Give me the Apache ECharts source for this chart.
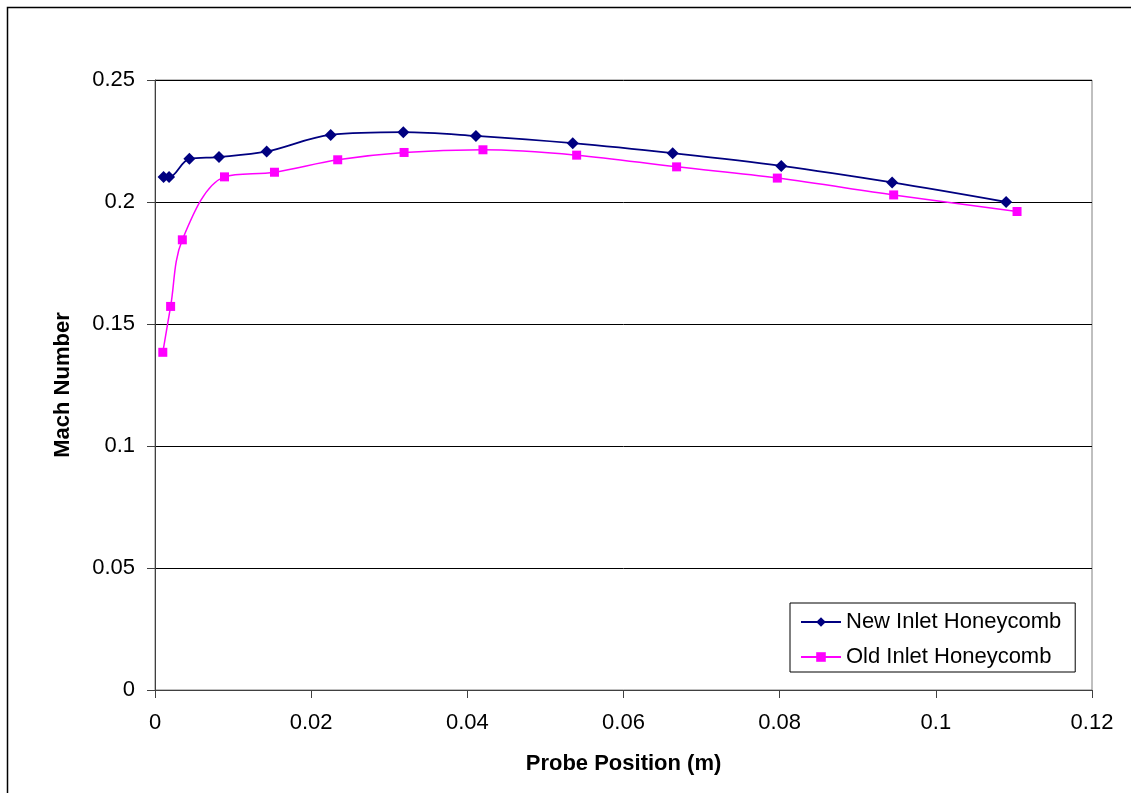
<!DOCTYPE html>
<html>
<head>
<meta charset="utf-8">
<script src="https://cdn.jsdelivr.net/npm/echarts@6/dist/echarts.min.js"></script>
<style>
html,body{margin:0;padding:0;background:#fff;}
#chart{width:1131px;height:793px;}
</style>
</head>
<body>
<div id="chart"></div>
<script>
const seriesNames = ['New Inlet Honeycomb', 'Old Inlet Honeycomb'];
const newX = [0.0011, 0.0018, 0.0044, 0.0082, 0.0143, 0.0225, 0.0318, 0.0411, 0.0535, 0.0663, 0.0802, 0.0944, 0.1090];
const newY = [0.2102, 0.2102, 0.2177, 0.2184, 0.2207, 0.2275, 0.2286, 0.2271, 0.2241, 0.2200, 0.2148, 0.2080, 0.2000];
const oldX = [0.0010, 0.0020, 0.0035, 0.0089, 0.0153, 0.0234, 0.0319, 0.0420, 0.0540, 0.0668, 0.0797, 0.0946, 0.1104];
const oldY = [0.1384, 0.1572, 0.1845, 0.2103, 0.2122, 0.2173, 0.2203, 0.2214, 0.2192, 0.2144, 0.2098, 0.2029, 0.1961];
const xTicks = [0, 0.02, 0.04, 0.06, 0.08, 0.1, 0.12];
const yTicks = [0, 0.05, 0.1, 0.15, 0.2, 0.25];

const pairs = (xs, ys) => xs.map((x, i) => [x, ys[i]]);
const font = 'Liberation Sans, Arial, sans-serif';

const chart = echarts.init(document.getElementById('chart'), null, {renderer: 'canvas'});
chart.setOption({
  backgroundColor: '#ffffff',
  animation: false,
  textStyle: {fontFamily: font},
  graphic: [{
    type: 'rect', left: 5, top: 5,
    shape: {width: 1140, height: 800},
    style: {fill: 'none', stroke: '#000', lineWidth: 1.5},
    silent: true
  }],
  grid: {
    left: 155, right: 39, top: 80, bottom: 103,
    show: true, borderColor: '#808080', borderWidth: 1, backgroundColor: 'transparent'
  },
  legend: {
    orient: 'vertical',
    left: 790, top: 603,
    padding: [8, 14, 4, 10],
    itemGap: 13,
    itemWidth: 40, itemHeight: 12,
    borderColor: '#000', borderWidth: 1,
    backgroundColor: '#fff',
    textStyle: {fontFamily: font, fontSize: 22, color: '#000', lineHeight: 22},
    data: seriesNames
  },
  xAxis: {
    type: 'value', min: 0, max: 0.12, interval: 0.02,
    name: 'Probe Position (m)', nameLocation: 'middle', nameGap: 63,
    nameTextStyle: {fontFamily: font, fontSize: 22, fontWeight: 'bold', color: '#000'},
    axisLine: {show: true, lineStyle: {color: '#404040', width: 1}},
    axisTick: {show: true, inside: false, length: 8, lineStyle: {color: '#404040'}},
    axisLabel: {fontFamily: font, fontSize: 22, color: '#000', margin: 22,
      customValues: xTicks, formatter: v => String(v)},
    splitLine: {show: false}
  },
  yAxis: {
    type: 'value', min: 0, max: 0.25, interval: 0.05,
    name: 'Mach Number', nameLocation: 'middle', nameGap: 81,
    nameTextStyle: {fontFamily: font, fontSize: 22, fontWeight: 'bold', color: '#000'},
    axisLine: {show: true, lineStyle: {color: '#404040', width: 1}},
    axisTick: {show: true, inside: false, length: 8, lineStyle: {color: '#404040'}},
    axisLabel: {fontFamily: font, fontSize: 22, color: '#000', margin: 20,
      customValues: yTicks, formatter: v => String(v)},
    splitLine: {show: true, lineStyle: {color: '#000', width: 1}}
  },
  series: [{
    name: seriesNames[0], type: 'line', smooth: 0.35,
    data: pairs(newX, newY),
    symbol: 'diamond', symbolSize: 12,
    itemStyle: {color: '#000080'},
    lineStyle: {color: '#000080', width: 1.8},
    z: 3
  }, {
    name: seriesNames[1], type: 'line', smooth: 0.35,
    data: pairs(oldX, oldY),
    symbol: 'rect', symbolSize: 9,
    itemStyle: {color: '#FF00FF'},
    lineStyle: {color: '#FF00FF', width: 1.5},
    z: 2
  }]
});
</script>
</body>
</html>
